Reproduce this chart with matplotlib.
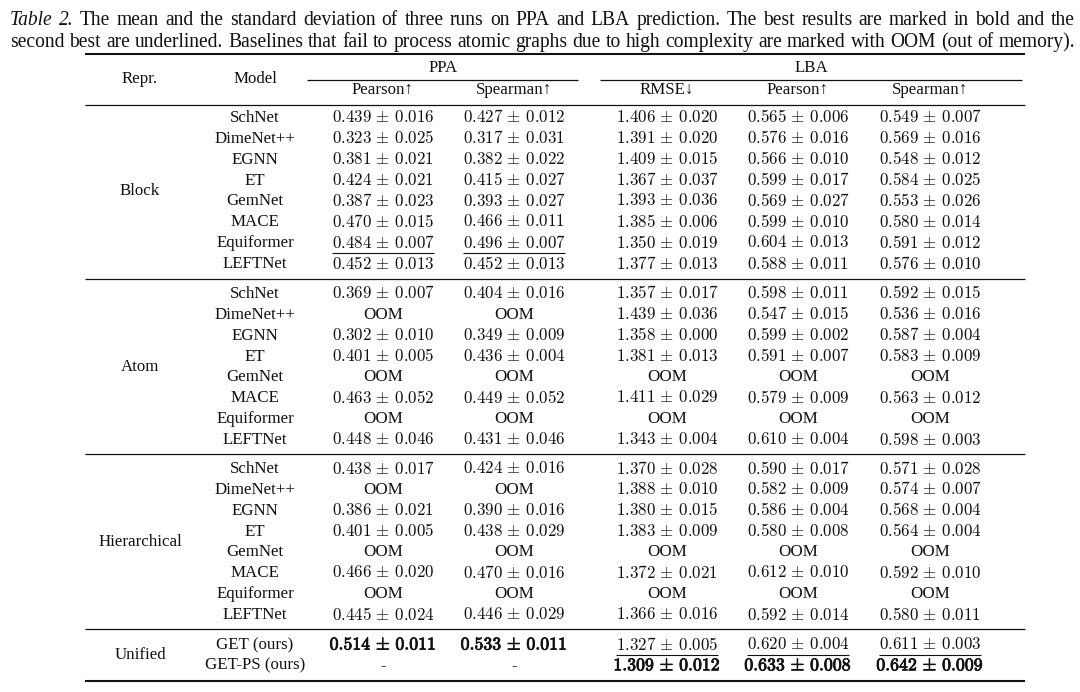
import matplotlib
matplotlib.use("Agg")
import matplotlib.pyplot as plt
import matplotlib.patheffects as pe

plt.rcParams['mathtext.fontset'] = 'cm'
plt.rcParams['font.family'] = ['Liberation Serif', 'DejaVu Serif']

W, H = 1080, 692
fig = plt.figure(figsize=(W / 100, H / 100), dpi=100)
ax = fig.add_axes([0, 0, 1, 1])
ax.set_xlim(0, W)
ax.set_ylim(H, 0)
ax.axis('off')

# ---------------- data ----------------
caption_line1 = "The mean and the standard deviation of three runs on PPA and LBA prediction. The best results are marked in bold and the"
caption_line2 = "second best are underlined. Baselines that fail to process atomic graphs due to high complexity are marked with OOM (out of memory)."

groups = ["Block", "Atom", "Hierarchical", "Unified"]
models = ["SchNet", "DimeNet++", "EGNN", "ET", "GemNet", "MACE", "Equiformer", "LEFTNet"]
unified_models = ["GET (ours)", "GET-PS (ours)"]
col_headers = ["Pearson↑", "Spearman↑", "RMSE↓", "Pearson↑", "Spearman↑"]

block_vals = [
    ["0.439±0.016", "0.427±0.012", "1.406±0.020", "0.565±0.006", "0.549±0.007"],
    ["0.323±0.025", "0.317±0.031", "1.391±0.020", "0.576±0.016", "0.569±0.016"],
    ["0.381±0.021", "0.382±0.022", "1.409±0.015", "0.566±0.010", "0.548±0.012"],
    ["0.424±0.021", "0.415±0.027", "1.367±0.037", "0.599±0.017", "0.584±0.025"],
    ["0.387±0.023", "0.393±0.027", "1.393±0.036", "0.569±0.027", "0.553±0.026"],
    ["0.470±0.015", "0.466±0.011", "1.385±0.006", "0.599±0.010", "0.580±0.014"],
    ["0.484±0.007", "0.496±0.007", "1.350±0.019", "0.604±0.013", "0.591±0.012"],
    ["0.452±0.013", "0.452±0.013", "1.377±0.013", "0.588±0.011", "0.576±0.010"],
]
atom_vals = [
    ["0.369±0.007", "0.404±0.016", "1.357±0.017", "0.598±0.011", "0.592±0.015"],
    ["OOM", "OOM", "1.439±0.036", "0.547±0.015", "0.536±0.016"],
    ["0.302±0.010", "0.349±0.009", "1.358±0.000", "0.599±0.002", "0.587±0.004"],
    ["0.401±0.005", "0.436±0.004", "1.381±0.013", "0.591±0.007", "0.583±0.009"],
    ["OOM", "OOM", "OOM", "OOM", "OOM"],
    ["0.463±0.052", "0.449±0.052", "1.411±0.029", "0.579±0.009", "0.563±0.012"],
    ["OOM", "OOM", "OOM", "OOM", "OOM"],
    ["0.448±0.046", "0.431±0.046", "1.343±0.004", "0.610±0.004", "0.598±0.003"],
]
hier_vals = [
    ["0.438±0.017", "0.424±0.016", "1.370±0.028", "0.590±0.017", "0.571±0.028"],
    ["OOM", "OOM", "1.388±0.010", "0.582±0.009", "0.574±0.007"],
    ["0.386±0.021", "0.390±0.016", "1.380±0.015", "0.586±0.004", "0.568±0.004"],
    ["0.401±0.005", "0.438±0.029", "1.383±0.009", "0.580±0.008", "0.564±0.004"],
    ["OOM", "OOM", "OOM", "OOM", "OOM"],
    ["0.466±0.020", "0.470±0.016", "1.372±0.021", "0.612±0.010", "0.592±0.010"],
    ["OOM", "OOM", "OOM", "OOM", "OOM"],
    ["0.445±0.024", "0.446±0.029", "1.366±0.016", "0.592±0.014", "0.580±0.011"],
]
unified_vals = [
    ["0.514±0.011", "0.533±0.011", "1.327±0.005", "0.620±0.004", "0.611±0.003"],
    ["-", "-", "1.309±0.012", "0.633±0.008", "0.642±0.009"],
]
# marks: 'b' bold (best), 'u' underline (second best), '' none
block_marks = [[""] * 5 for _ in range(8)]
block_marks[6] = ["u", "u", "", "", ""]
atom_marks = [[""] * 5 for _ in range(8)]
hier_marks = [[""] * 5 for _ in range(8)]
unified_marks = [["b", "b", "u", "u", "u"], ["", "", "b", "b", "b"]]

# ---------------- layout ----------------
FS = 12.2
col_x = [383, 514, 667, 798, 930]
repr_x, model_x = 140, 255
L, R = 85, 1025
ink = "#111111"

def hline(y, x0=L, x1=R, lw=1.0):
    ax.plot([x0, x1], [y, y], color=ink, lw=lw, solid_capstyle='butt')

def cell(x, y, s, mark=""):
    if s in ("OOM", "-"):
        return ax.text(x, y, s, ha='center', va='center', fontsize=FS, color=ink)
    a, b = s.split("±")
    if mark == "b":
        m = r"$\mathbf{%s}\,\pm\,\mathbf{%s}$" % (a, b)
        return ax.text(x, y, m, ha='center', va='center', fontsize=FS * 1.05, color=ink,
                       path_effects=[pe.withStroke(linewidth=0.6, foreground=ink)])
    m = r"$%s\,\pm\,%s$" % (a, b)
    return ax.text(x, y, m, ha='center', va='center', fontsize=FS, color=ink)

# caption (justified)
fig.canvas.draw()
renderer = fig.canvas.get_renderer()

def text_width(s, fs, **kw):
    t = ax.text(0, 0, s, fontsize=fs, **kw)
    bb = t.get_window_extent(renderer)
    t.remove()
    return bb.width

X0, X1 = 10, 1075
w_line2 = text_width(caption_line2, 12)
CFS = 12 * (X1 - X0 - 4) / w_line2

def justify(words, y, x0=X0, x1=X1):
    widths = [text_width(w, CFS, style=st) for w, st in words]
    gap = (x1 - x0 - sum(widths)) / (len(words) - 1)
    x = x0
    for (w, st), wd in zip(words, widths):
        ax.text(x, y, w, fontsize=CFS, style=st, ha='left', va='baseline', color=ink)
        x += wd + gap

line1 = [("Table", "italic"), ("2.", "italic")] + [(w, "normal") for w in caption_line1.split()]
line2 = [(w, "normal") for w in caption_line2.split()]
justify(line1, 25)
justify(line2, 47)

# rules
hline(54, lw=1.5)
hline(80, 307, 578, lw=0.9)
hline(80, 600, 1022, lw=0.9)
hline(105, lw=0.9)
hline(279, lw=0.9)
hline(454, lw=0.9)
hline(629, lw=0.9)
hline(681, lw=1.5)

# headers
ax.text(repr_x, 79, "Repr.", ha='center', va='center', fontsize=FS, color=ink)
ax.text(model_x, 79, "Model", ha='center', va='center', fontsize=FS, color=ink)
ax.text(443, 68, "PPA", ha='center', va='center', fontsize=FS, color=ink)
ax.text(811, 68, "LBA", ha='center', va='center', fontsize=FS, color=ink)
for x, h in zip(col_x, col_headers):
    ax.text(x, 90, h, ha='center', va='center', fontsize=FS, color=ink)

underlined = []
step = 20.86
group_data = [(block_vals, block_marks, models, 118),
              (atom_vals, atom_marks, models, 294),
              (hier_vals, hier_marks, models, 469),
              (unified_vals, unified_marks, unified_models, 645)]
for g, (vals, marks, names, y0) in zip(groups, group_data):
    ys = [y0 + i * step for i in range(len(names))]
    ax.text(repr_x, (ys[0] + ys[-1]) / 2, g, ha='center', va='center', fontsize=FS, color=ink)
    for y, name, row, mrow in zip(ys, names, vals, marks):
        ax.text(model_x, y, name, ha='center', va='center', fontsize=FS, color=ink)
        for x, s, mk in zip(col_x, row, mrow):
            t = cell(x, y, s, mk)
            if mk == "u":
                underlined.append((t, y))

fig.canvas.draw()
for t, y in underlined:
    bb = t.get_window_extent(renderer)
    hline(y + 9.5, bb.x0, bb.x1, lw=0.8)

fig.savefig("out.png", dpi=100)
